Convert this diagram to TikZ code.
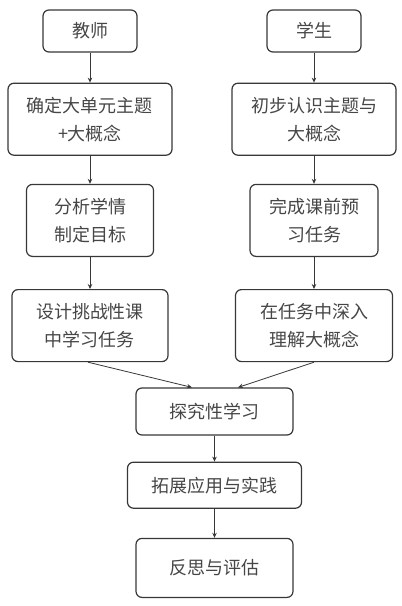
\documentclass[tikz,border=0pt]{standalone}
\usepackage{fontspec}
\newfontfamily\cjkfont{Noto Sans CJK SC}
\usetikzlibrary{arrows.meta, positioning}
\definecolor{boxline}{RGB}{55,55,55}
\definecolor{txtgray}{RGB}{70,70,70}

\begin{document}
\begin{tikzpicture}[x=1pt, y=1pt,
    stepbox/.style={draw=boxline, line width=1.2pt, rounded corners=6pt, align=center,
                    text=txtgray, inner sep=0pt,
                    font=\cjkfont\fontsize{18}{28}\selectfont},
    headbox/.style={stepbox, minimum width=94pt, minimum height=42pt},
    arr/.style={-{Stealth[length=5pt, width=4.5pt]}, line width=0.8pt, draw=boxline},
  ]
    \useasboundingbox (0,0) rectangle (402,-606);

    % two columns
    \node[headbox] (teacher) at (90,-31) {教师};
    \node[headbox] (student) at (314,-31) {学生};
    \node[stepbox, minimum width=164pt, minimum height=72pt, below=30pt of teacher] (tTheme) {确定大单元主题\\+大概念};
    \node[stepbox, minimum width=164pt, minimum height=72pt, below=30pt of student] (sTheme) {初步认识主题与\\大概念};
    \node[stepbox, minimum width=127pt, minimum height=72pt, below=28pt of tTheme] (tPlan) {分析学情\\制定目标};
    \node[stepbox, minimum width=128pt, minimum height=72pt, below=28pt of sTheme] (sPrep) {完成课前预\\习任务};
    \node[stepbox, minimum width=156pt, minimum height=72pt, below=32pt of tPlan] (tTask) {设计挑战性课\\中学习任务};
    \node[stepbox, minimum width=157pt, minimum height=72pt, below=32pt of sPrep] (sTask) {在任务中深入\\理解大概念};

    % joint steps
    \node[stepbox, minimum width=157pt, minimum height=47pt] (explore) at (214.5,-411.5) {探究性学习};
    \node[stepbox, minimum width=174pt, minimum height=46pt, below=26pt of explore] (apply) {拓展应用与实践};
    \node[stepbox, minimum width=157pt, minimum height=59pt, below=29pt of apply] (reflect) {反思与评估};

    \draw[arr] (teacher) -- (tTheme);
    \draw[arr] (tTheme) -- (tPlan);
    \draw[arr] (tPlan) -- (tTask);
    \draw[arr] (student) -- (sTheme);
    \draw[arr] (sTheme) -- (sPrep);
    \draw[arr] (sPrep) -- (sTask);
    \draw[arr] ([xshift=-2pt]tTask.south) -- ([xshift=-22.5pt]explore.north);
    \draw[arr] (sTask.south) -- ([xshift=23.5pt]explore.north);
    \draw[arr] (explore) -- (apply);
    \draw[arr] (apply) -- (reflect);
  \end{tikzpicture}
\end{document}
